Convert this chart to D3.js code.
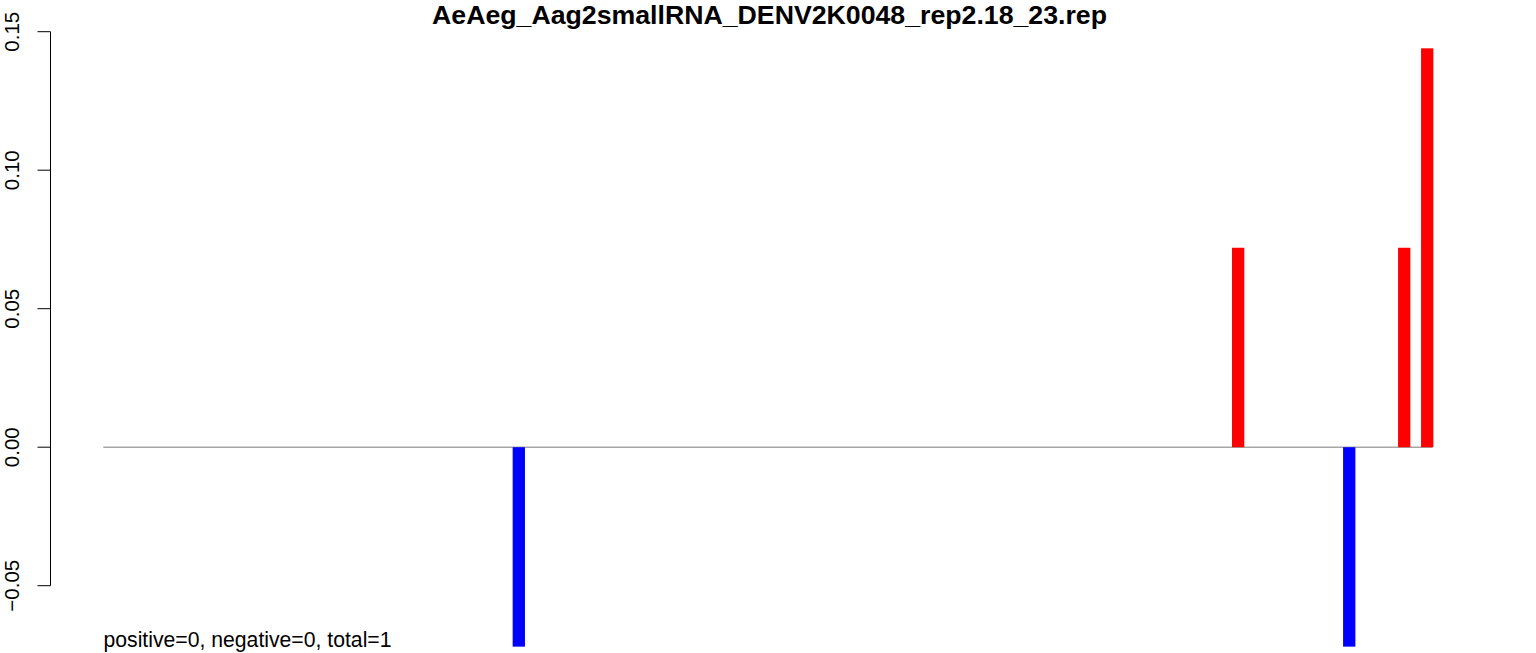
<!DOCTYPE html>
<html>
<head>
<meta charset="utf-8">
<script src="https://cdn.jsdelivr.net/npm/d3@7"></script>
<style>
html,body{margin:0;padding:0;background:#fff;}
svg{display:block;}
text{font-family:"Liberation Sans",Arial,sans-serif;}
</style>
</head>
<body>
<script>
// ---- data ----
const title = "AeAeg_Aag2smallRNA_DENV2K0048_rep2.18_23.rep";
const footer = "positive=0, negative=0, total=1";
const positions = [3328, 9176, 10079, 10526, 10713]; // bin start (nt)
const values = [-0.072, 0.072, -0.072, 0.072, 0.144];
const binWidth = 100;
const xExtent = [0, 10806];
const yTicks = [-0.05, 0.00, 0.05, 0.10, 0.15];

const W = 1536, H = 653;
const svg = d3.select("body").append("svg").attr("width", W).attr("height", H);

const x = d3.scaleLinear().domain(xExtent).range([103.3, 1432.5]);
const y = d3.scaleLinear().domain([-0.05, 0.15]).range([585.7, 31.7]);

// zero line
svg.append("line")
  .attr("x1", x(xExtent[0])).attr("x2", x(xExtent[1]))
  .attr("y1", y(0)).attr("y2", y(0))
  .attr("stroke", "#a6a6a6").attr("stroke-width", 1.6);

// bars
svg.selectAll("rect.bar").data(positions.map((p, i) => ({p, v: values[i]})))
  .enter().append("rect")
  .attr("x", d => x(d.p))
  .attr("width", d => x(d.p + binWidth) - x(d.p))
  .attr("y", d => Math.min(y(d.v), y(0)))
  .attr("height", d => Math.abs(y(d.v) - y(0)))
  .attr("fill", d => d.v >= 0 ? "#ff0000" : "#0000ff");

// y axis
const axisX = 50.5;
const ax = svg.append("g").attr("transform", `translate(${axisX},0)`);
ax.append("line").attr("x1", 0).attr("x2", 0)
  .attr("y1", y(yTicks[0])).attr("y2", y(yTicks[yTicks.length - 1]))
  .attr("stroke", "#000").attr("stroke-width", 1);
ax.selectAll("line.tick").data(yTicks).enter().append("line")
  .attr("x1", -13).attr("x2", 0)
  .attr("y1", d => y(d)).attr("y2", d => y(d))
  .attr("stroke", "#000").attr("stroke-width", 1);
const fmt = d3.format(".2f");
svg.selectAll("text.ytl").data(yTicks).enter().append("text")
  .attr("transform", d => `translate(18.5,${y(d)}) rotate(-90)`)
  .attr("text-anchor", "middle")
  .attr("font-size", 20.5)
  .text(d => fmt(d).replace("-", "\u2212"));

// title
svg.append("text")
  .attr("x", 769.5).attr("y", 24)
  .attr("text-anchor", "middle")
  .attr("font-weight", "bold")
  .attr("font-size", 26.7)
  .text(title);

// footer
svg.append("text")
  .attr("x", 103.5).attr("y", 647)
  .attr("font-size", 21.2)
  .text(footer);
</script>
</body>
</html>
